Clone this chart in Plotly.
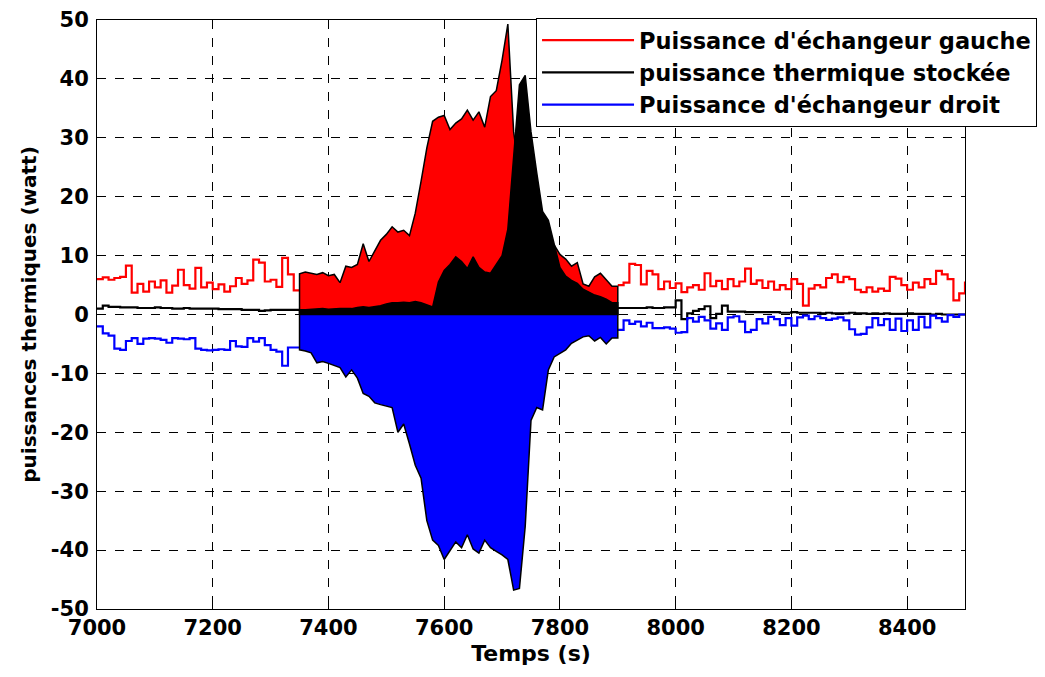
import plotly.graph_objects as go

# time axis (s), one sample every 10 s
t = list(range(7000, 8501, 10))

# Puissance d'échangeur gauche (W)
p_gauche = [
    6.0, 6.3, 5.9, 6.2, 6.4, 8.3, 3.7, 5.2, 3.9, 5.6,
    4.6, 5.8, 3.7, 4.9, 7.6, 5.0, 4.4, 7.9, 4.6, 5.4,
    4.3, 5.1, 3.9, 4.8, 6.2, 5.2, 5.8, 9.3, 8.8, 5.6,
    5.9, 4.7, 9.6, 6.8, 4.1, 6.9, 7.2, 7.0, 6.8, 7.1,
    6.6, 6.8, 5.4, 8.2, 8.0, 8.5, 12.0, 9.0, 10.8, 12.6,
    13.6, 14.9, 14.0, 14.3, 13.4, 17.2, 22.6, 28.3, 32.8, 33.5,
    33.8, 31.4, 32.5, 33.2, 34.7, 33.0, 34.4, 31.8, 37.0, 38.0,
    43.2, 49.3, 31.0, 24.0, 22.0, 20.0, 17.0, 14.0, 12.0, 11.8,
    10.2, 9.4, 8.2, 8.8, 5.2, 4.8, 6.4, 7.0, 5.9, 4.8,
    5.0, 5.4, 8.6, 8.4, 5.1, 7.4, 6.8, 4.3, 5.6, 4.5,
    5.3, 3.8, 4.6, 5.0, 4.2, 7.0, 4.8, 5.7, 4.3, 6.0,
    4.8, 5.6, 7.8, 5.2, 5.8, 4.5, 5.6, 4.2, 5.0, 4.3,
    6.0, 5.2, 1.5, 4.4, 5.0, 4.6, 6.2, 6.8, 5.5, 6.4,
    6.0, 4.2, 3.8, 4.6, 3.9, 4.4, 4.0, 6.4, 6.1, 5.0,
    4.2, 5.4, 4.6, 6.0, 5.2, 7.4, 6.8, 6.0, 2.4, 3.6,
    5.6,
]

# puissance thermique stockée (W)
p_stockee = [
    1.0, 1.5, 1.3, 1.3, 1.2, 1.2, 1.2, 1.1, 1.1, 1.1,
    1.2, 1.1, 1.1, 1.0, 1.0, 1.1, 1.0, 1.0, 1.0, 1.0,
    1.0, 0.9, 0.9, 0.9, 0.9, 0.8, 0.8, 0.8, 0.6, 0.7,
    0.8, 0.8, 0.8, 0.8, 0.8, 0.8, 0.8, 0.9, 0.9, 1.0,
    0.9, 1.0, 1.0, 1.0, 1.0, 1.2, 1.3, 1.2, 1.3, 1.5,
    1.8, 2.0, 2.0, 2.1, 2.0, 2.2, 2.0, 1.6, 1.3, 5.5,
    7.5, 8.5, 9.8, 9.0, 7.8, 9.8, 8.0, 7.2, 7.0, 8.5,
    10.0, 14.5, 27.0, 39.0, 40.6, 31.0, 24.0, 17.5, 16.0, 11.8,
    8.0, 6.5, 5.8, 5.3, 4.3, 3.8, 3.3, 3.0, 2.6, 2.0,
    1.1, 1.1, 1.1, 1.1, 1.1, 1.2, 1.1, 1.1, 1.2, 1.2,
    2.4, -0.8, 0.2, 0.6, 0.9, 1.4, -0.6, 0.1, 1.5, 0.5,
    0.5, 0.5, 0.4, 0.4, 0.4, 0.4, 0.4, 0.4, 0.3, 0.3,
    0.4, 0.3, 0.3, 0.3, 0.3, 0.2, 0.3, 0.2, 0.2, 0.2,
    0.3, 0.2, 0.2, 0.1, 0.2, 0.1, 0.2, 0.1, 0.1, 0.1,
    0.2, 0.1, 0.1, 0.1, 0.0, 0.1, 0.0, 0.0, 0.0, 0.0,
    0.0,
]

# Puissance d'échangeur droit (W)
p_droit = [
    -2.0, -3.2, -3.6, -5.8, -6.0, -4.5, -4.0, -5.0, -4.1, -4.0,
    -4.1, -4.3, -4.8, -4.0, -4.1, -4.2, -4.0, -5.8, -6.0, -6.1,
    -6.0, -5.9, -6.0, -4.5, -5.4, -5.5, -4.0, -4.6, -4.0, -5.2,
    -6.0, -6.3, -8.7, -5.6, -5.6, -6.0, -6.2, -6.5, -8.2, -8.0,
    -8.3, -8.6, -9.0, -10.6, -9.4, -10.8, -13.4, -13.9, -15.0, -15.3,
    -15.6, -15.8, -20.0, -18.6, -22.0, -25.6, -27.8, -35.0, -38.3, -39.2,
    -41.6, -40.2, -38.6, -39.6, -37.4, -39.8, -40.5, -38.3, -39.6, -40.2,
    -40.8, -41.6, -46.8, -46.5, -36.0, -18.0, -15.8, -16.2, -9.4, -7.2,
    -6.6, -6.0, -4.9, -4.3, -3.8, -3.6, -4.5, -3.9, -5.0, -4.0,
    -2.6, -1.0, -1.6, -1.2, -2.0, -1.4, -2.3, -2.3, -2.2, -2.4,
    -3.1, -3.0, -0.6, -1.2, -0.4, -1.0, -2.4, -1.5, -2.6, -0.5,
    -0.3, -1.2, -3.0, -2.6, -0.8, -1.5, -0.4, -0.8, -1.8, -0.6,
    -1.9, -0.5, -0.2, -0.8, -0.3, -0.6, -0.9, -0.7, -0.5, -1.0,
    -2.5, -3.4, -3.3, -2.2, -0.6, -1.8, -0.8, -2.6, -0.7, -2.8,
    -1.0, -2.6, -0.4, -2.2, -0.2, -0.6, -1.2, -0.1, -0.4, 0.0,
    0.0,
]

names = ["Puissance d'échangeur gauche", "puissance thermique stockée",
         "Puissance d'échangeur droit"]
colors = ["#ff0000", "#000000", "#0000ff"]
series = [p_gauche, p_stockee, p_droit]

x_ticks = list(range(7000, 8401, 200))
y_ticks = list(range(-50, 51, 10))

# filled (charge) interval
t_start, t_end = 7350, 7900
i0 = t.index(t_start)
i1 = t.index(t_end)

fig = go.Figure()

# plain lines outside the filled interval
for name, col, v in zip(names, colors, series):
    xs = t[:i0] + [t_start, None] + t[i1:]
    ys = v[:i0] + [v[i0 - 1], None] + v[i1:]
    fig.add_trace(go.Scatter(x=xs, y=ys, mode="lines", name=name,
                             line=dict(color=col, width=2.2, shape="hv"),
                             connectgaps=False, hoverinfo="skip"))

# filled areas with black outline
for name, col, v in zip(names, colors, series):
    xs = [t_start] + t[i0:i1] + [t_end, t_end, t_start]
    ys = [0] + v[i0:i1] + [v[i1 - 1], 0, 0]
    fig.add_trace(go.Scatter(x=xs, y=ys, mode="lines", fill="toself",
                             fillcolor=col, showlegend=False,
                             line=dict(color="black", width=1.5, shape="linear"),
                             hoverinfo="skip"))

font_tick = dict(family="DejaVu Sans", size=21, color="black", weight="bold")
font_xtitle = dict(family="DejaVu Sans", size=22, color="black", weight="bold")
font_ytitle = dict(family="DejaVu Sans", size=20, color="black", weight="bold")

# the page body adds an 8 px offset, margins compensate for it
fig.update_layout(
    width=1045, height=677,
    margin=dict(l=89, r=88, t=12, b=76, autoexpand=False),
    paper_bgcolor="white", plot_bgcolor="white",
    font=font_tick,
    showlegend=True,
    legend=dict(x=0.5058, y=1.0034, xanchor="left", yanchor="top",
                bgcolor="white", bordercolor="black", borderwidth=1,
                font=dict(family="DejaVu Sans", size=22.5, color="black", weight="bold"),
                itemwidth=92, tracegroupgap=0),
)

fig.update_xaxes(
    range=[7000, 8500], tickvals=x_ticks, ticktext=[str(v) for v in x_ticks],
    showgrid=True, gridcolor="black", griddash="dash", gridwidth=1,
    showline=True, linecolor="black", linewidth=1, mirror=True,
    ticks="inside", ticklen=6, tickcolor="black", zeroline=False,
    title=dict(text="Temps (s)", standoff=6, font=font_xtitle),
    tickfont=font_tick, automargin=False,
)
fig.update_yaxes(
    range=[-50, 50], tickvals=y_ticks, ticktext=[str(v) for v in y_ticks],
    showgrid=True, gridcolor="black", griddash="dash", gridwidth=1,
    showline=True, linecolor="black", linewidth=1, mirror=True,
    ticks="inside", ticklen=6, tickcolor="black", zeroline=False,
    title=dict(text="puissances thermiques (watt)", standoff=8, font=font_ytitle),
    tickfont=font_tick, ticklabelstandoff=3, automargin=False,
)

fig.write_html("out.html")
